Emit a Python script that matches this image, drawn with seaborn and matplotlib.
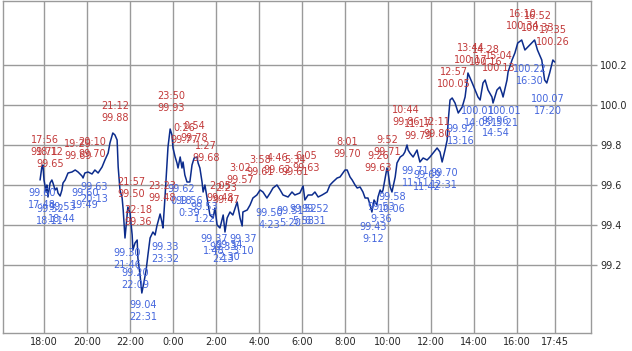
import matplotlib
matplotlib.use("Agg")
import matplotlib.pyplot as plt
import seaborn as sns
import pandas as pd

# price trace (17:49 -> 17:45 next day)
price_times = [
    "17:49", "17:54", "17:57", "18:00", "18:06", "18:08", "18:11", "18:17", "18:22", "18:25",
    "18:31", "18:36", "18:39", "18:45", "18:50", "18:53", "18:59", "19:07", "19:18", "19:27",
    "19:35", "19:46", "19:49", "19:54", "20:03", "20:14", "20:22", "20:31", "20:42", "20:50",
    "20:59", "21:04", "21:12", "21:18", "21:24", "21:27", "21:32", "21:38", "21:41", "21:46",
    "21:52", "21:54", "22:00", "22:06", "22:08", "22:14", "22:20", "22:22", "22:28", "22:33",
    "22:39", "22:45", "22:50", "22:56", "23:04", "23:10", "23:15", "23:24", "23:29", "23:32",
    "23:38", "23:43", "23:46", "23:52", "23:57", "0:00", "0:06", "0:11", "0:14", "0:20",
    "0:25", "0:28", "0:33", "0:39", "0:47", "0:53", "0:59", "1:07", "1:10", "1:15",
    "1:21", "1:24", "1:29", "1:35", "1:38", "1:43", "1:52", "1:57", "2:03", "2:11",
    "2:20", "2:25", "2:31", "2:39", "2:47", "2:59", "3:07", "3:13", "3:15", "3:27",
    "3:35", "3:43", "3:54", "4:03", "4:11", "4:22", "4:31", "4:39", "4:50", "4:59",
    "5:07", "5:21", "5:32", "5:40", "5:54", "6:03", "6:08", "6:17", "6:28", "6:36",
    "6:45", "6:56", "7:10", "7:18", "7:26", "7:38", "7:46", "8:00", "8:06", "8:14",
    "8:20", "8:28", "8:34", "8:42", "8:50", "8:56", "9:04", "9:10", "9:15", "9:21",
    "9:29", "9:32", "9:38", "9:43", "9:46", "9:57", "10:00", "10:06", "10:11", "10:20",
    "10:25", "10:34", "10:42", "10:47", "10:53", "10:56", "11:01", "11:10", "11:21", "11:24",
    "11:29", "11:38", "11:49", "11:57", "12:06", "12:17", "12:25", "12:31", "12:39", "12:45",
    "12:47", "12:53", "12:59", "13:07", "13:16", "13:27", "13:35", "13:41", "13:43", "13:55",
    "14:03", "14:11", "14:17", "14:25", "14:31", "14:39", "14:50", "14:53", "15:04", "15:12",
    "15:18", "15:21", "15:32", "15:35", "15:46", "15:54", "16:02", "16:13", "16:22", "16:30",
    "16:41", "16:49", "16:57", "17:09", "17:17", "17:23", "17:31", "17:40", "17:45",
]
price_values = [
    99.625, 99.69, 99.70, 99.625, 99.565, 99.60, 99.54, 99.61, 99.625, 99.61,
    99.575, 99.585, 99.56, 99.545, 99.575, 99.61, 99.625, 99.66, 99.665, 99.675,
    99.665, 99.645, 99.635, 99.66, 99.665, 99.655, 99.675, 99.66, 99.69, 99.725,
    99.76, 99.81, 99.86, 99.85, 99.825, 99.69, 99.575, 99.535, 99.475, 99.335,
    99.45, 99.49, 99.46, 99.35, 99.275, 99.31, 99.325, 99.235, 99.15, 99.06,
    99.115, 99.175, 99.25, 99.335, 99.365, 99.35, 99.395, 99.455, 99.415, 99.385,
    99.55, 99.70, 99.79, 99.88, 99.85, 99.785, 99.74, 99.71, 99.685, 99.74,
    99.685, 99.715, 99.65, 99.615, 99.615, 99.70, 99.735, 99.74, 99.71, 99.685,
    99.615, 99.565, 99.60, 99.535, 99.50, 99.45, 99.435, 99.485, 99.40, 99.385,
    99.45, 99.365, 99.435, 99.465, 99.45, 99.515, 99.435, 99.395, 99.465, 99.475,
    99.50, 99.535, 99.55, 99.575, 99.565, 99.535, 99.56, 99.585, 99.60, 99.575,
    99.55, 99.54, 99.565, 99.55, 99.56, 99.595, 99.525, 99.55, 99.55, 99.565,
    99.54, 99.55, 99.565, 99.60, 99.615, 99.635, 99.64, 99.675, 99.675, 99.64,
    99.625, 99.60, 99.585, 99.59, 99.565, 99.535, 99.535, 99.50, 99.465, 99.525,
    99.50, 99.54, 99.575, 99.56, 99.575, 99.685, 99.665, 99.59, 99.565, 99.64,
    99.71, 99.74, 99.75, 99.765, 99.80, 99.775, 99.76, 99.74, 99.775, 99.75,
    99.715, 99.735, 99.725, 99.74, 99.76, 99.785, 99.765, 99.715, 99.775, 99.825,
    99.90, 100.025, 100.035, 100.01, 99.96, 99.99, 100.04, 100.125, 100.16, 100.11,
    100.075, 100.04, 100.025, 100.11, 100.125, 100.075, 100.04, 100.01, 100.075, 100.09,
    100.06, 100.04, 100.125, 100.165, 100.225, 100.26, 100.31, 100.325, 100.275, 100.29,
    100.31, 100.325, 100.275, 100.225, 100.125, 100.11, 100.16, 100.225, 100.215,
]

# labelled highs (red) and lows (blue)
high_times = ["17:56", "18:12", "19:29", "20:10", "21:12", "21:57", "22:18", "23:23",
              "23:50", "0:26", "0:54", "1:27", "2:05", "2:23", "3:02", "3:58",
              "4:46", "5:34", "6:05", "8:01", "9:26", "9:52", "10:44", "11:17",
              "12:11", "12:57", "13:44", "14:28", "15:04", "16:10", "16:52", "17:35"]
high_values = [99.71, 99.65, 99.69, 99.70, 99.88, 99.50, 99.36, 99.48,
               99.93, 99.77, 99.78, 99.68, 99.48, 99.47, 99.57, 99.61,
               99.62, 99.61, 99.63, 99.70, 99.63, 99.71, 99.86, 99.79,
               99.80, 100.05, 100.17, 100.16, 100.13, 100.34, 100.33, 100.26]

low_times = ["17:48", "18:11", "18:44", "19:49", "20:13", "21:46", "22:09", "22:31",
             "23:32", "0:18", "0:39", "1:22", "1:48", "2:13", "2:30", "3:10",
             "4:23", "5:20", "5:58", "6:31", "9:12", "9:36", "10:06", "11:11",
             "11:42", "12:31", "13:16", "14:05", "14:54", "15:21", "16:30", "17:20"]
low_values = [99.60, 99.52, 99.53, 99.60, 99.63, 99.30, 99.20, 99.04,
              99.33, 99.62, 99.56, 99.53, 99.37, 99.33, 99.34, 99.37,
              99.50, 99.51, 99.52, 99.52, 99.43, 99.53, 99.58, 99.71,
              99.69, 99.70, 99.92, 100.01, 99.96, 100.01, 100.22, 100.07]

tick_labels = ["18:00", "20:00", "22:00", "0:00", "2:00", "4:00", "6:00",
               "8:00", "10:00", "12:00", "14:00", "16:00", "17:45"]
y_ticks = [99.2, 99.4, 99.6, 99.8, 100.0, 100.2]


def to_hours(labels):
    # clock strings -> hours, rolling over to the next day
    out, day, prev = [], 0, -1
    for s in labels:
        h, m = s.split(":")
        t = int(h) + int(m) / 60
        if t < prev:
            day += 24
        prev = t
        out.append(t + day)
    return out


df = pd.DataFrame({"hour": to_hours(price_times), "price": price_values})

sns.set_style("white")
fig = plt.figure(figsize=(6.32, 3.51), dpi=100)
ax = fig.add_axes([3 / 632, 18 / 351, 588 / 632, 332 / 351])

sns.lineplot(data=df, x="hour", y="price", ax=ax, color="#0c2c8c", linewidth=1.1)

red = "#c23a3a"
blue = "#4466dd"
for t, v, s in zip(to_hours(high_times), high_values, high_times):
    ax.annotate(f"{s}\n{v:.2f}", (t, v), xytext=(1.5, 4.5), textcoords="offset points",
                ha="center", va="bottom", fontsize=7, color=red)
for t, v, s in zip(to_hours(low_times), low_values, low_times):
    ax.annotate(f"{v:.2f}\n{s}", (t, v), xytext=(1.5, -2.5), textcoords="offset points",
                ha="center", va="top", fontsize=7, color=blue)

ax.set_xlim(16.093, 43.44)
ax.set_ylim(98.86, 100.52)
ax.set_xticks(to_hours(tick_labels))
ax.set_xticklabels(tick_labels)
ax.set_yticks(y_ticks)
ax.set_yticklabels([f"{v:.1f}" for v in y_ticks])
ax.yaxis.tick_right()
ax.set_xlabel("")
ax.set_ylabel("")
ax.grid(True, color="#9a9a9a", linewidth=1.0)
ax.set_axisbelow(True)
for sp in ax.spines.values():
    sp.set_color("#9a9a9a")
    sp.set_linewidth(1.0)
ax.tick_params(axis="y", length=4.5, width=1.0, color="#9a9a9a", pad=2, labelsize=7)
ax.tick_params(axis="x", length=0, pad=3, labelsize=7)

fig.savefig("out.png", dpi=100)
